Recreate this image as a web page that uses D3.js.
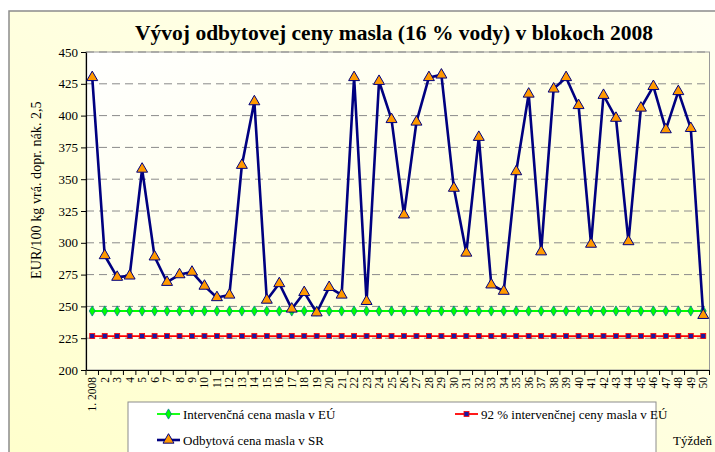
<!DOCTYPE html>
<html>
<head>
<meta charset="utf-8">
<script src="https://cdn.jsdelivr.net/npm/d3@7"></script>
<style>
  body { margin: 0; background: #fff; }
  svg, text { font-family: "Liberation Serif", "DejaVu Serif", serif; }
</style>
</head>
<body>
<script>
// weeks of 2008
const weeks = d3.range(1, 51);
const weekLabels = weeks.map(w => w === 1 ? "1. 2008" : String(w));

// selling price of butter in SR (EUR/100 kg)
const priceSR = [430, 290, 273, 274, 358, 289, 269, 275, 277, 266,
                 257, 259, 361, 411, 255, 268, 248, 261, 245, 265,
                 259, 430, 254, 427, 397, 322, 395, 430, 432, 343,
                 292, 383, 267, 262, 356, 417, 293, 421, 430, 408,
                 299, 416, 398, 301, 406, 423, 389, 419, 390, 243];

// EU intervention price and 92 % of it
const interv = weeks.map(() => 246.39);
const interv92 = weeks.map(() => 226.68);

const yTicks = d3.range(200, 451, 25);

const W = 715, H = 452;
const m = { left: 86, right: 709.5, top: 52, bottom: 370 };

const svg = d3.select("body").append("svg")
    .attr("width", W)
    .attr("height", H)
    .attr("font-family", "Liberation Serif");

const defs = svg.append("defs");
const bg = defs.append("linearGradient").attr("id", "bg")
    .attr("x1", 0).attr("y1", 1).attr("x2", 1).attr("y2", 0);
bg.append("stop").attr("offset", 0).attr("stop-color", "#ffffcc");
bg.append("stop").attr("offset", 1).attr("stop-color", "#fffff2");

const pg = defs.append("linearGradient").attr("id", "pg")
    .attr("x1", 0).attr("y1", 0).attr("x2", 1).attr("y2", 1);
pg.append("stop").attr("offset", 0).attr("stop-color", "#ffffff");
pg.append("stop").attr("offset", 1).attr("stop-color", "#ffffcc");

defs.append("clipPath").attr("id", "ylab")
  .append("rect").attr("x", 0).attr("y", 102).attr("width", 80).attr("height", 300);

// outer chart frame
svg.append("rect")
    .attr("x", 9).attr("y", 11)
    .attr("width", 720).attr("height", 460)
    .attr("fill", "url(#bg)")
    .attr("stroke", "#8c8c8c")
    .attr("stroke-width", 1.5);

const x = d3.scaleBand().domain(weeks).range([m.left, m.right]);
const y = d3.scaleLinear().domain([200, 450]).range([m.bottom, m.top]);
const cx = d => x(d) + x.bandwidth() / 2;

// plot area
svg.append("rect")
    .attr("x", m.left).attr("y", m.top)
    .attr("width", m.right - m.left).attr("height", m.bottom - m.top)
    .attr("fill", "url(#pg)")
    .attr("stroke", "#999")
    .attr("stroke-width", 1);

// dashed gridlines
svg.append("g").selectAll("line")
    .data(yTicks.filter(t => t > 200))
    .join("line")
    .attr("x1", m.left).attr("x2", m.right)
    .attr("y1", d => y(d)).attr("y2", d => y(d))
    .attr("stroke", "#8a8a8a")
    .attr("stroke-width", 1)
    .attr("stroke-dasharray", "8,5");

// y axis
const yAxis = svg.append("g")
    .attr("transform", `translate(${m.left},0)`)
    .call(d3.axisLeft(y).tickValues(yTicks).tickSize(5).tickSizeOuter(0))
    .attr("font-family", "Liberation Serif");
yAxis.select(".domain").attr("stroke", "#000").attr("stroke-width", 1.2);
yAxis.selectAll("text").attr("font-size", 13).attr("fill", "#000");

// x axis: labels at centres, ticks between categories
const xAxis = svg.append("g")
    .attr("transform", `translate(0,${m.bottom})`)
    .call(d3.axisBottom(x).tickSize(0).tickFormat((d, i) => weekLabels[i]))
    .attr("font-family", "Liberation Serif");
xAxis.select(".domain").attr("stroke", "#000").attr("stroke-width", 1.2);
xAxis.selectAll("text")
    .attr("font-size", 11.5)
    .attr("fill", "#000")
    .attr("transform", "rotate(-90)")
    .attr("text-anchor", "end")
    .attr("x", -7).attr("y", 0).attr("dy", "0.35em");
svg.append("g").selectAll("line")
    .data(weeks.concat(["end"]))
    .join("line")
    .attr("x1", d => d === "end" ? m.right : x(d))
    .attr("x2", d => d === "end" ? m.right : x(d))
    .attr("y1", m.bottom).attr("y2", m.bottom + 5)
    .attr("stroke", "#000");

// lines
const line = d3.line().x((d, i) => cx(weeks[i])).y(d => y(d));

svg.append("path").datum(interv92)
    .attr("d", line).attr("fill", "none")
    .attr("stroke", "#ff0000").attr("stroke-width", 1.8);
svg.append("g").selectAll("rect")
    .data(interv92).join("rect")
    .attr("x", (d, i) => cx(weeks[i]) - 2.5).attr("y", d => y(d) - 2.5)
    .attr("width", 5).attr("height", 5)
    .attr("fill", "#1a1aa0").attr("stroke", "#ff0000").attr("stroke-width", 0.8);

svg.append("path").datum(interv)
    .attr("d", line).attr("fill", "none")
    .attr("stroke", "#00ff00").attr("stroke-width", 1.8);
svg.append("g").selectAll("path")
    .data(interv).join("path")
    .attr("d", d3.symbol(d3.symbolDiamond, 30))
    .attr("transform", (d, i) => `translate(${cx(weeks[i])},${y(d)})`)
    .attr("fill", "#00ff00").attr("stroke", "#00808a").attr("stroke-width", 0.8);

svg.append("path").datum(priceSR)
    .attr("d", line).attr("fill", "none")
    .attr("stroke", "#000080").attr("stroke-width", 2.6)
    .attr("stroke-linejoin", "round");
svg.append("g").selectAll("path")
    .data(priceSR).join("path")
    .attr("d", d3.symbol(d3.symbolTriangle, 52))
    .attr("transform", (d, i) => `translate(${cx(weeks[i])},${y(d)})`)
    .attr("fill", "#ff9900").attr("stroke", "#000080").attr("stroke-width", 1);

// title
svg.append("text")
    .attr("x", 394).attr("y", 40)
    .attr("text-anchor", "middle")
    .attr("font-size", 21.5)
    .attr("font-weight", "bold")
    .text("Vývoj odbytovej ceny masla (16 % vody) v blokoch  2008");

// y label (clipped at the top like the original)
svg.append("g").attr("clip-path", "url(#ylab)")
  .append("text")
    .attr("transform", "translate(41,279) rotate(-90)")
    .attr("font-size", 14.2)
    .text("EUR/100 kg vrá. dopr. nák. 2,50 €");

// legend
const lg = svg.append("g");
lg.append("rect")
    .attr("x", 128).attr("y", 402).attr("width", 528).attr("height", 70)
    .attr("fill", "#fff").attr("stroke", "#8c8c8c").attr("stroke-width", 1);

const legendItems = [
  { name: "Intervenčná cena masla v EÚ", color: "#00ff00", sym: "diamond", lx: 157, ly: 414 },
  { name: "92 % intervenčnej ceny masla v EÚ", color: "#ff0000", sym: "square", lx: 455, ly: 414 },
  { name: "Odbytová cena masla v SR", color: "#000080", sym: "triangle", lx: 157, ly: 440 }
];
legendItems.forEach(it => {
  lg.append("line")
      .attr("x1", it.lx).attr("x2", it.lx + 23)
      .attr("y1", it.ly).attr("y2", it.ly)
      .attr("stroke", it.color).attr("stroke-width", it.sym === "triangle" ? 2.6 : 1.8);
  const mx = it.lx + 11.5;
  if (it.sym === "diamond") {
    lg.append("path").attr("d", d3.symbol(d3.symbolDiamond, 30))
        .attr("transform", `translate(${mx},${it.ly})`)
        .attr("fill", "#00ff00").attr("stroke", "#00808a").attr("stroke-width", 0.8);
  } else if (it.sym === "square") {
    lg.append("rect").attr("x", mx - 2.5).attr("y", it.ly - 2.5)
        .attr("width", 5).attr("height", 5)
        .attr("fill", "#1a1aa0").attr("stroke", "#ff0000").attr("stroke-width", 0.8);
  } else {
    lg.append("path").attr("d", d3.symbol(d3.symbolTriangle, 52))
        .attr("transform", `translate(${mx},${it.ly})`)
        .attr("fill", "#ff9900").attr("stroke", "#000080").attr("stroke-width", 1);
  }
  lg.append("text")
      .attr("x", it.lx + 26).attr("y", it.ly + 4.5)
      .attr("font-size", 13)
      .text(it.name);
});

svg.append("text")
    .attr("x", 673).attr("y", 445)
    .attr("font-size", 13)
    .text("Týždeň");
</script>
</body>
</html>
